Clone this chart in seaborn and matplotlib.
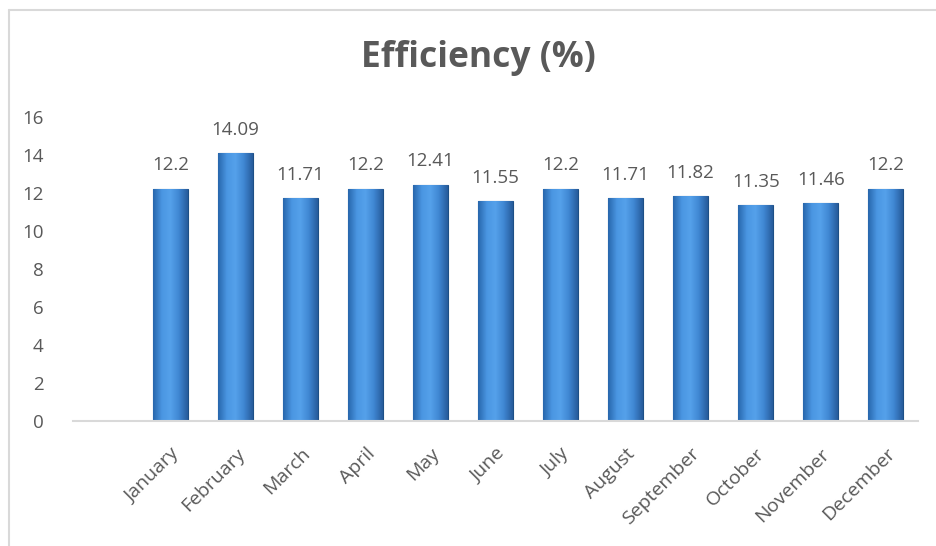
import numpy as np
import seaborn as sns
import matplotlib.pyplot as plt
from matplotlib.colors import LinearSegmentedColormap
from matplotlib.lines import Line2D

months = ['January', 'February', 'March', 'April', 'May', 'June', 'July',
          'August', 'September', 'October', 'November', 'December']
efficiency = [12.2, 14.09, 11.71, 12.2, 12.41, 11.55, 12.2, 11.71, 11.82, 11.35, 11.46, 12.2]
yticks = [0, 2, 4, 6, 8, 10, 12, 14, 16]

sns.set_style('white')
plt.rcParams['font.family'] = ['Open Sans', 'DejaVu Sans']
grey = '#595959'

fig = plt.figure(figsize=(9.36, 5.46), dpi=100)
ax = fig.add_axes([0.078, 0.229, 0.903, 0.557])

sns.barplot(x=months, y=efficiency, color='#3f87d4', width=0.53,
            edgecolor='#1d4f86', linewidth=0.8, ax=ax)

# horizontal shading on each bar, like the bevel fill of the original
cmap = LinearSegmentedColormap.from_list('bar', ['#2867ad', '#4a96e2', '#55a1ea', '#3f86d2', '#275c9c'])
grad = np.linspace(0, 1, 64).reshape(1, -1)
for p in ax.patches:
    x0, y0 = p.get_x(), p.get_y()
    w, h = p.get_width(), p.get_height()
    im = ax.imshow(grad, cmap=cmap, aspect='auto', extent=[x0, x0 + w, y0, y0 + h], zorder=p.get_zorder())
    im.set_clip_path(p)
    ax.plot([x0 + 0.02, x0 + w - 0.02], [-0.12, -0.12], color='#c8c8c8', lw=2, zorder=1, alpha=0.6)

for i, v in enumerate(efficiency):
    ax.annotate(f'{v:g}', (i, v), xytext=(0, 10.5), textcoords='offset points',
                ha='center', va='bottom', fontsize=13.5, color=grey)

ax.set_xlim(-1.5, 11.5)
ax.set_ylim(0, 16)
ax.set_yticks(yticks)
ax.tick_params(axis='y', labelsize=13.5, labelcolor=grey, length=0, pad=21)
ax.tick_params(axis='x', labelsize=14, labelcolor=grey, length=0, pad=17)
plt.setp(ax.get_xticklabels(), rotation=45, ha='right', rotation_mode='anchor')

for s in ['left', 'top', 'right']:
    ax.spines[s].set_visible(False)
ax.spines['bottom'].set_color('#d9d9d9')
ax.spines['bottom'].set_linewidth(1.5)

fig.text(0.511, 0.893, 'Efficiency (%)', ha='center', va='center',
         fontsize=25.5, fontweight='bold', color=grey)

# chart frame (left and top edges visible in the crop)
fig.add_artist(Line2D([9 / 936, 9 / 936], [0, 1 - 10 / 546], color='#d9d9d9', lw=1.5))
fig.add_artist(Line2D([9 / 936, 1], [1 - 10 / 546, 1 - 10 / 546], color='#d9d9d9', lw=1.5))

fig.savefig('out.png', dpi=100)
